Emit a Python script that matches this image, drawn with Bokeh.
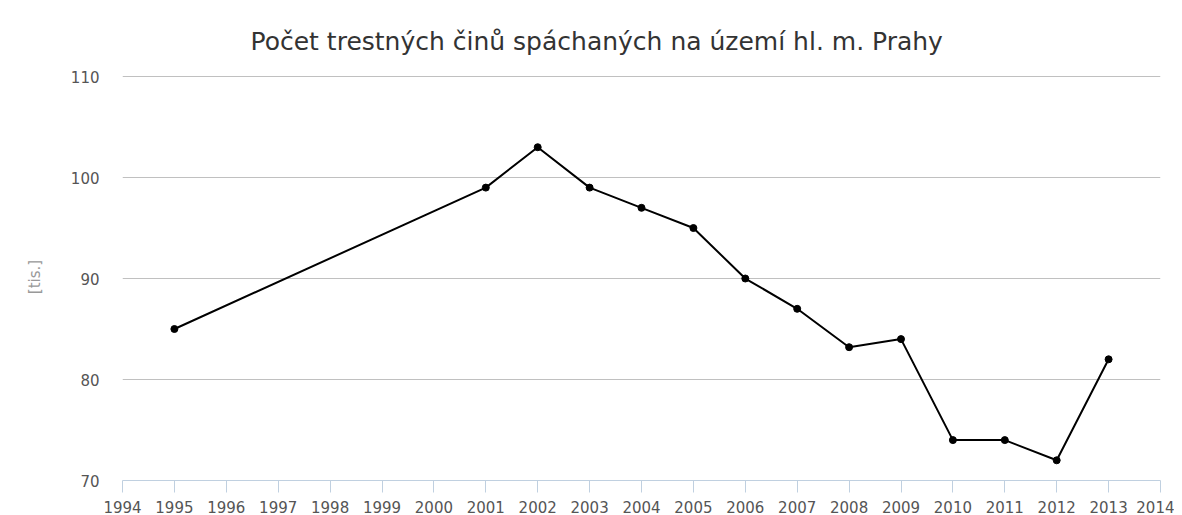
from bokeh.plotting import figure
from bokeh.models import Range1d, FixedTicker, ColumnDataSource
from bokeh.embed import file_html
from bokeh.resources import INLINE

years = [1995, 2001, 2002, 2003, 2004, 2005, 2006, 2007, 2008, 2009, 2010, 2011, 2012, 2013]
crimes = [85, 99, 103, 99, 97, 95, 90, 87, 83.2, 84, 74, 74, 72, 82]
x_ticks = list(range(1994, 2015))
y_ticks = [70, 80, 90, 100, 110]
title_text = "Počet trestných činů spáchaných na území hl. m. Prahy"
y_label = "[tis.]"

src = ColumnDataSource(dict(x=years, y=crimes))

p = figure(width=1174, height=515, output_backend="svg", toolbar_location=None,
           x_range=Range1d(1994, 2014), y_range=Range1d(70, 110.3),
           min_border_left=122, min_border_right=14, min_border_top=73, min_border_bottom=35)
p.outline_line_color = None
p.background_fill_color = "white"
p.border_fill_color = "white"

p.title.text = title_text
p.title.align = "left"
p.title.offset = 128
p.title.text_font = "DejaVu Sans"
p.title.text_font_size = "25px"
p.title.text_font_style = "normal"
p.title.text_color = "#333333"
p.title.standoff = 35

# x axis
xa = p.xaxis[0]
xa.ticker = FixedTicker(ticks=x_ticks)
xa.axis_line_color = "#c0d0e0"
xa.major_tick_line_color = "#c0d0e0"
xa.major_tick_out = 12
xa.major_tick_in = 0
xa.minor_tick_line_color = None
xa.major_label_standoff = 8
xa.major_label_text_font = "DejaVu Sans"
xa.major_label_text_font_size = "15px"
xa.major_label_text_color = "#555555"

# y axis
ya = p.yaxis[0]
ya.ticker = FixedTicker(ticks=y_ticks)
ya.axis_line_color = None
ya.major_tick_line_color = None
ya.minor_tick_line_color = None
ya.major_label_standoff = 17
ya.major_label_text_font = "DejaVu Sans"
ya.major_label_text_font_size = "15px"
ya.major_label_text_color = "#555555"
ya.axis_label = y_label
ya.axis_label_text_font = "DejaVu Sans"
ya.axis_label_text_font_size = "15px"
ya.axis_label_text_font_style = "normal"
ya.axis_label_text_color = "#999999"
ya.axis_label_standoff = 24

p.xgrid.grid_line_color = None
p.ygrid.ticker = FixedTicker(ticks=y_ticks)
p.ygrid.grid_line_color = "#c0c0c0"
p.ygrid.grid_line_width = 1

p.line("x", "y", source=src, line_color="black", line_width=2)
p.scatter("x", "y", source=src, size=7, fill_color="black", line_color="black")

open("out.html", "w").write(file_html(p, INLINE))
